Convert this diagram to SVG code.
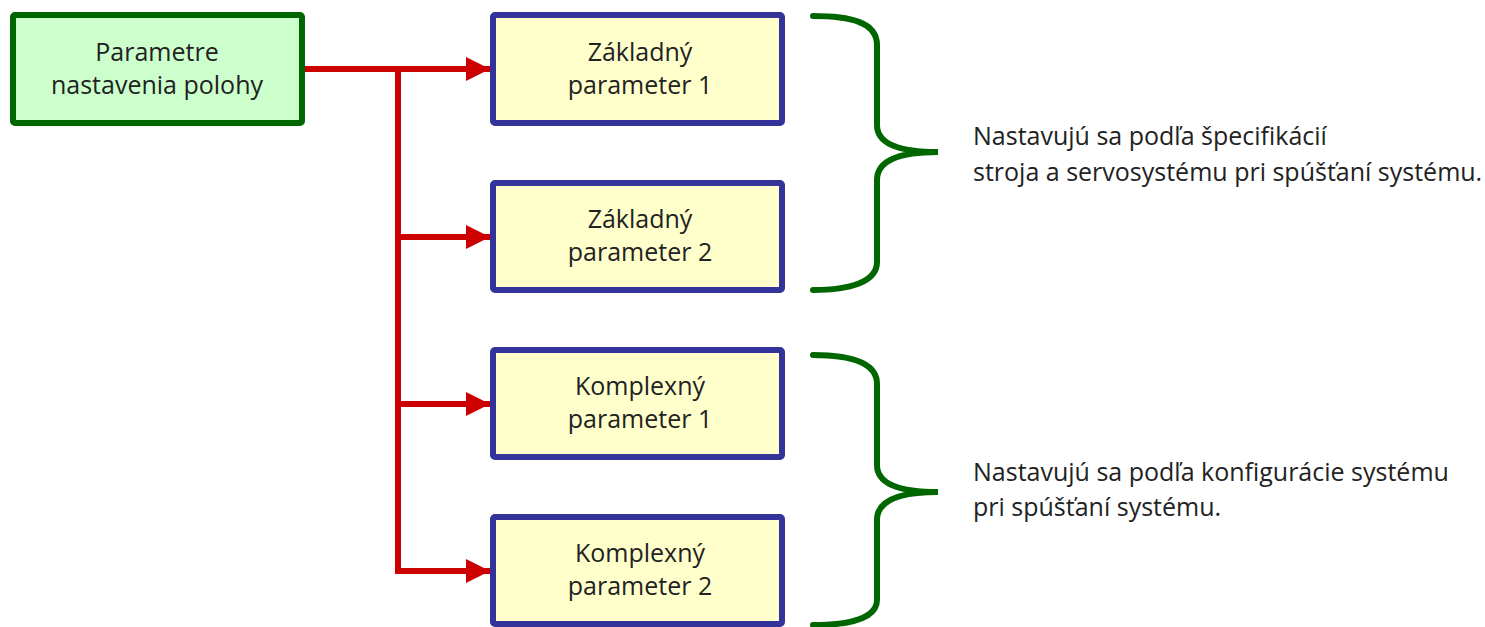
<svg xmlns="http://www.w3.org/2000/svg" width="1485" height="627" viewBox="0 0 1485 627">
<defs>
<style>
.t{font-family:"Open Sans","Noto Sans","DejaVu Sans",sans-serif;font-size:25px;fill:#222;}
.c{text-anchor:middle;}
.root{fill:#ccffcc;stroke:#006600;stroke-width:6;}
.box{fill:#ffffcc;stroke:#333399;stroke-width:6;}
.conn{fill:none;stroke:#cc0000;stroke-width:6;}
.brace{fill:none;stroke:#006600;stroke-width:6;stroke-linecap:round;}
</style>
<marker id="arr" markerWidth="24" markerHeight="24" viewBox="0 0 24 24" refX="24" refY="12" markerUnits="userSpaceOnUse" orient="auto">
<path d="M0,0 L24,12 L0,24 Z" fill="#cc0000"/>
</marker>
</defs>
<rect width="1485" height="627" fill="#ffffff"/>
<g id="connectors">
<path class="conn" d="M303,69 H490" marker-end="url(#arr)"/>
<path class="conn" d="M398,69 V571 H490" marker-end="url(#arr)"/>
<path class="conn" d="M398,237 H490" marker-end="url(#arr)"/>
<path class="conn" d="M398,404 H490" marker-end="url(#arr)"/>
</g>
<g id="root">
<rect class="root" x="13" y="15" width="289" height="108" rx="2"/>
<text class="t c" x="157" y="61">Parametre</text>
<text class="t c" x="157" y="94">nastavenia polohy</text>
</g>
<g id="basic1">
<rect class="box" x="493" y="15" width="289" height="108" rx="2"/>
<text class="t c" x="640" y="61">Základný</text>
<text class="t c" x="640" y="94">parameter 1</text>
</g>
<g id="basic2">
<rect class="box" x="493" y="183" width="289" height="107" rx="2"/>
<text class="t c" x="640" y="228">Základný</text>
<text class="t c" x="640" y="261">parameter 2</text>
</g>
<g id="complex1">
<rect class="box" x="493" y="350" width="289" height="107" rx="2"/>
<text class="t c" x="640" y="395">Komplexný</text>
<text class="t c" x="640" y="428">parameter 1</text>
</g>
<g id="complex2">
<rect class="box" x="493" y="517" width="289" height="107" rx="2"/>
<text class="t c" x="640" y="562">Komplexný</text>
<text class="t c" x="640" y="595">parameter 2</text>
</g>
<g id="brace1">
<path class="brace" d="M813,16 C850,16 877,22 877,45 L877,125 C877,142 895,152 938,152 C895,152 877,162 877,180 L877,262 C877,282 850,290 813,290"/>
<text class="t" x="973" y="145">Nastavujú sa podľa špecifikácií</text>
<text class="t" x="973" y="181">stroja a servosystému pri spúšťaní systému.</text>
</g>
<g id="brace2">
<path class="brace" d="M813,355 C850,355 877,362 877,384 L877,465 C877,482 895,492 938,492 C895,492 877,502 877,520 L877,600 C877,618 850,625 813,625"/>
<text class="t" x="973" y="481">Nastavujú sa podľa konfigurácie systému</text>
<text class="t" x="973" y="516">pri spúšťaní systému.</text>
</g>
</svg>
